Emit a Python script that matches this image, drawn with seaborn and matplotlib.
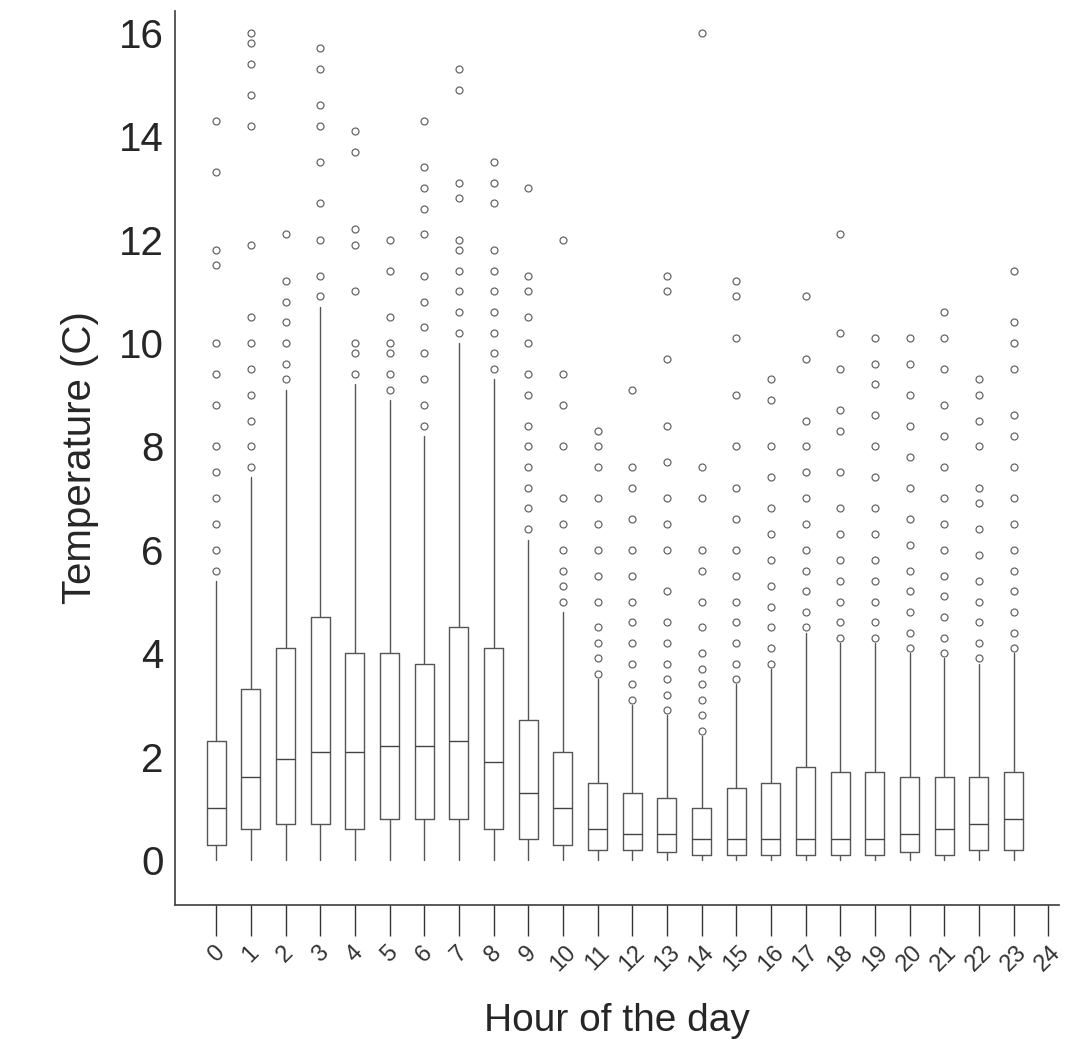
import matplotlib
matplotlib.use("Agg")
import matplotlib.pyplot as plt
import seaborn as sns

# Box statistics (Temperature in C, per hour)
hours = list(range(24))
q1 = [0.3, 0.6, 0.7, 0.7, 0.6, 0.8, 0.8, 0.8, 0.6, 0.4, 0.3, 0.2, 0.2, 0.15, 0.1, 0.1, 0.1, 0.1, 0.1, 0.1, 0.15, 0.1, 0.2, 0.2]
med = [1.0, 1.6, 1.95, 2.1, 2.1, 2.2, 2.2, 2.3, 1.9, 1.3, 1.0, 0.6, 0.5, 0.5, 0.4, 0.4, 0.4, 0.4, 0.4, 0.4, 0.5, 0.6, 0.7, 0.8]
q3 = [2.3, 3.3, 4.1, 4.7, 4.0, 4.0, 3.8, 4.5, 4.1, 2.7, 2.1, 1.5, 1.3, 1.2, 1.0, 1.4, 1.5, 1.8, 1.7, 1.7, 1.6, 1.6, 1.6, 1.7]
whislo = [0.0] * 24
whishi = [5.4, 7.4, 9.1, 10.7, 9.2, 8.9, 8.2, 10.0, 9.3, 6.2, 4.8, 3.5, 3.0, 2.8, 2.4, 3.4, 3.7, 4.4, 4.2, 4.2, 4.0, 3.9, 3.8, 4.0]
fliers = [
    [5.6, 6.0, 6.5, 7.0, 7.5, 8.0, 8.8, 9.4, 10.0, 11.5, 11.8, 13.3, 14.3],
    [7.6, 8.0, 8.5, 9.0, 9.5, 10.0, 10.5, 11.9, 14.2, 14.8, 15.4, 15.8, 16.0],
    [9.3, 9.6, 10.0, 10.4, 10.8, 11.2, 12.1],
    [10.9, 11.3, 12.0, 12.7, 13.5, 14.2, 14.6, 15.3, 15.7],
    [9.4, 9.8, 10.0, 11.0, 11.9, 12.2, 13.7, 14.1],
    [9.1, 9.4, 9.8, 10.0, 10.5, 11.4, 12.0],
    [8.4, 8.8, 9.3, 9.8, 10.3, 10.8, 11.3, 12.1, 12.6, 13.0, 13.4, 14.3],
    [10.2, 10.6, 11.0, 11.4, 11.8, 12.0, 12.8, 13.1, 14.9, 15.3],
    [9.5, 9.8, 10.2, 10.6, 11.0, 11.4, 11.8, 12.7, 13.1, 13.5],
    [6.4, 6.8, 7.2, 7.6, 8.0, 8.4, 9.0, 9.4, 10.0, 10.5, 11.0, 11.3, 13.0],
    [5.0, 5.3, 5.6, 6.0, 6.5, 7.0, 8.0, 8.8, 9.4, 12.0],
    [3.6, 3.9, 4.2, 4.5, 5.0, 5.5, 6.0, 6.5, 7.0, 7.6, 8.0, 8.3],
    [3.1, 3.4, 3.8, 4.2, 4.6, 5.0, 5.5, 6.0, 6.6, 7.2, 7.6, 9.1],
    [2.9, 3.2, 3.5, 3.8, 4.2, 4.6, 5.2, 6.0, 6.5, 7.0, 7.7, 8.4, 9.7, 11.0, 11.3],
    [2.5, 2.8, 3.1, 3.4, 3.7, 4.0, 4.5, 5.0, 5.6, 6.0, 7.0, 7.6, 16.0],
    [3.5, 3.8, 4.2, 4.6, 5.0, 5.5, 6.0, 6.6, 7.2, 8.0, 9.0, 10.1, 10.9, 11.2],
    [3.8, 4.1, 4.5, 4.9, 5.3, 5.8, 6.3, 6.8, 7.4, 8.0, 8.9, 9.3],
    [4.5, 4.8, 5.2, 5.6, 6.0, 6.5, 7.0, 7.5, 8.0, 8.5, 9.7, 10.9],
    [4.3, 4.6, 5.0, 5.4, 5.8, 6.3, 6.8, 7.5, 8.3, 8.7, 9.5, 10.2, 12.1],
    [4.3, 4.6, 5.0, 5.4, 5.8, 6.3, 6.8, 7.4, 8.0, 8.6, 9.2, 9.6, 10.1],
    [4.1, 4.4, 4.8, 5.2, 5.6, 6.1, 6.6, 7.2, 7.8, 8.4, 9.0, 9.6, 10.1],
    [4.0, 4.3, 4.7, 5.1, 5.5, 6.0, 6.5, 7.0, 7.6, 8.2, 8.8, 9.5, 10.1, 10.6],
    [3.9, 4.2, 4.6, 5.0, 5.4, 5.9, 6.4, 6.9, 7.2, 8.0, 8.5, 9.0, 9.3],
    [4.1, 4.4, 4.8, 5.2, 5.6, 6.0, 6.5, 7.0, 7.6, 8.2, 8.6, 9.5, 10.0, 10.4, 11.4],
]
tick_labels = [str(h) for h in range(25)]

sns.set_theme(style="ticks")
plt.rcParams["font.family"] = ["Liberation Sans", "DejaVu Sans"]

stats = []
for h in hours:
    stats.append(dict(med=med[h], q1=q1[h], q3=q3[h], whislo=whislo[h],
                      whishi=whishi[h], fliers=fliers[h]))

fig = plt.figure(figsize=(10.65, 10.5), dpi=100)
ax = fig.add_axes([0.164, 0.138, 0.83, 0.852])
ax.bxp(stats, positions=hours, widths=0.55, showcaps=False,
       boxprops=dict(color="#555555", linewidth=1),
       medianprops=dict(color="#444444", linewidth=1),
       whiskerprops=dict(color="#555555", linewidth=1),
       flierprops=dict(marker="o", markersize=5, markerfacecolor="none",
                       markeredgecolor="#666666", markeredgewidth=0.9))

ax.set_xlim(-1.2, 24.3)
ax.set_ylim(-0.87, 16.43)
ax.set_xticks(range(25))
ax.set_xticklabels(tick_labels, rotation=45, fontsize=17)
ax.set_yticks(range(0, 17, 2))
ax.tick_params(axis="y", labelsize=29, length=0, pad=8)
ax.tick_params(axis="x", length=22, width=1, colors="#333333", pad=4)
ax.set_xlabel("Hour of the day", fontsize=28, labelpad=20)
ax.set_ylabel("Temperature (C)", fontsize=29, labelpad=14)
sns.despine(ax=ax)
for s in ("left", "bottom"):
    ax.spines[s].set_color("#444444")

fig.savefig("out.png", dpi=100)
